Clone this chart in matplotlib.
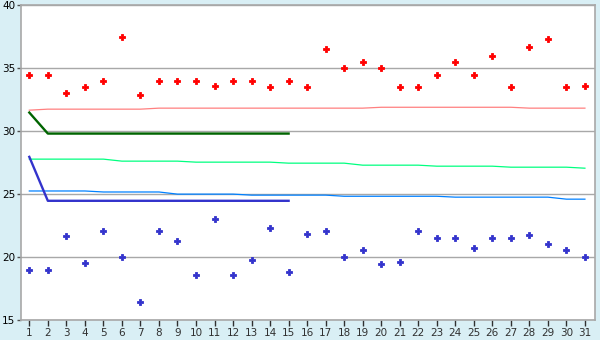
import matplotlib
matplotlib.use("Agg")
import matplotlib.pyplot as plt
import numpy as np

# data
days = np.arange(1, 32)

red_pts = [34.5, 34.5, 33.0, 33.5, 34.0, 37.5, 32.9, 34.0, 34.0, 34.0,
           33.6, 34.0, 34.0, 33.5, 34.0, 33.5, 36.5, 35.0, 35.5, 35.0,
           33.5, 33.5, 34.5, 35.5, 34.5, 36.0, 33.5, 36.7, 37.3, 33.5, 33.6]
blue_pts = [19.0, 19.0, 21.7, 19.5, 22.1, 20.0, 16.4, 22.1, 21.3, 18.6,
            23.0, 18.6, 19.75, 22.3, 18.8, 21.8, 22.1, 20.0, 20.55, 19.45,
            19.6, 22.1, 21.5, 21.5, 20.7, 21.5, 21.5, 21.75, 21.0, 20.55, 20.0]

salmon_line = [31.67] + [31.75] * 6 + [31.83] * 12 + [31.9] * 8 + [31.83] * 4
green_line = [27.78] * 5 + [27.62] * 4 + [27.54] * 5 + [27.46] * 4 + [27.30] * 4 \
    + [27.22] * 4 + [27.14] * 4 + [27.06]
lblue_line = [25.25] * 4 + [25.17] * 4 + [25.0] * 4 + [24.92] * 5 + [24.83] * 6 \
    + [24.76] * 6 + [24.6] * 2

short_days = np.arange(1, 16)
dgreen_line = [31.48] + [29.81] * 14
dblue_line = [27.96] + [24.47] * 14

# colours
bg = '#d9eff5'
frame = '#a8a8a8'

fig = plt.figure(figsize=(6, 3.4), dpi=100, facecolor=bg)
ax = fig.add_axes([0.0345, 0.0588, 0.9572, 0.9256])
ax.set_facecolor('white')

ax.plot(days, salmon_line, color='#ff8080', lw=0.9, zorder=3)
ax.plot(days, green_line, color='#00ff80', lw=0.9, zorder=3)
ax.plot(days, lblue_line, color='#0080ff', lw=0.9, zorder=3)
ax.plot(short_days, dgreen_line, color='#006400', lw=1.7, zorder=4)
ax.plot(short_days, dblue_line, color='#3333cc', lw=1.7, zorder=4)

ax.plot(days, red_pts, 'P', color='#ff0000', ms=4.8, mew=0.6, ls='none', zorder=5)
ax.plot(days, blue_pts, 'P', color='#3333cc', ms=4.8, mew=0.6, ls='none', zorder=5)

ax.set_xlim(0.535, 31.545)
ax.set_ylim(15, 40)
ax.set_xticks(days)
ax.set_yticks([15, 20, 25, 30, 35, 40])
ax.grid(axis='y', color=frame, lw=1.0)
ax.set_axisbelow(True)

for s in ax.spines.values():
    s.set_color(frame)
    s.set_linewidth(1.2)

ax.tick_params(axis='both', colors='#505050', labelcolor='black',
               labelsize=7.5, width=1, direction='out')
ax.tick_params(axis='y', length=3, pad=1)
ax.tick_params(axis='x', colors='#303030', length=4, pad=2)

fig.savefig('out.png', dpi=100, facecolor=bg)
